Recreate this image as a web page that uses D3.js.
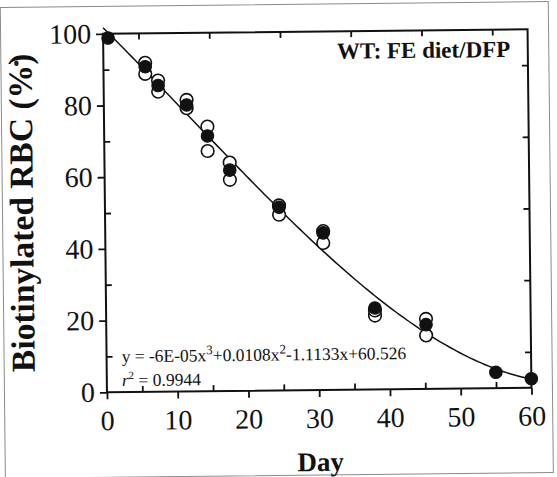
<!DOCTYPE html>
<html>
<head>
<meta charset="utf-8">
<script src="https://cdn.jsdelivr.net/npm/d3@7"></script>
<style>
  body { margin: 0; background: #fff; }
  text { font-family: "Liberation Serif", "Times New Roman", serif; fill: #111; }
</style>
</head>
<body>
<svg id="chart" width="557" height="477"></svg>
<script>
// Days after biotin labelling
const days = [0.7, 5.9, 7.7, 11.7, 14.6, 17.7, 24.6, 30.8, 38.0, 45.2, 55.0, 60.0];
// Biotinylated RBC (%) per mouse
const mouseFilled = [98.8, 90.7, 85.4, 79.9, 71.2, 61.6, 51.1, 43.8, 22.7, 17.9, 4.4, 2.5];
const mouseOpenA  = [null, 91.8, 86.8, 81.3, 73.8, 63.7, 51.6, 44.3, 22.0, 19.5, null, null];
const mouseOpenB  = [null, 88.7, 83.7, 79.0, 67.0, 58.9, 49.0, 41.0, 20.6, 14.9, null, null];

const xMajorTicks = [0, 10, 20, 30, 40, 50, 60];
const xMinorTicks = [5, 15, 25, 35, 45, 55];
const yMajorTicks = [0, 20, 40, 60, 80, 100];
const yMinorTicks = [10, 30, 50, 70, 90];

const titleText = "WT: FE diet/DFP";
const xLabel = "Day";
const yLabel = "Biotinylated RBC (%)";

const plot = { left: 105, right: 529.5, top: 31.5, bottom: 390 };

const svg = d3.select("#chart");
const root = svg.append("g")
  .attr("transform", `rotate(-0.62 ${(plot.left + plot.right) / 2} ${(plot.top + plot.bottom) / 2})`);

// faint outer frame of the figure panel
root.append("rect")
  .attr("x", 2.5).attr("y", 4).attr("width", 548).attr("height", 471)
  .attr("fill", "none").attr("stroke", "#8a8a8a").attr("stroke-width", 1);

const x = d3.scaleLinear().domain([0, 60]).range([plot.left, plot.right]);
const y = d3.scaleLinear().domain([0, 100]).range([plot.bottom, plot.top]);

// axes: major ticks outward with labels, minor ticks inward
const axisLeftMajor = d3.axisLeft(y).tickValues(yMajorTicks).tickSize(7).tickPadding(5).tickFormat(d3.format("d"));
const axisLeftMinor = d3.axisLeft(y).tickValues(yMinorTicks).tickSize(-6).tickFormat("");
const axisBottomMajor = d3.axisBottom(x).tickValues(xMajorTicks).tickSize(7).tickPadding(11).tickFormat(d3.format("d"));
const axisBottomMinor = d3.axisBottom(x).tickValues(xMinorTicks).tickSize(-6).tickFormat("");
const axisTopMinor = d3.axisTop(x).tickValues(xMinorTicks).tickSize(-6).tickFormat("");
const axisRightMinor = d3.axisRight(y).tickValues(yMinorTicks).tickSize(-6).tickFormat("");

function styleAxis(g) {
  g.select(".domain").remove();
  g.selectAll(".tick line").attr("stroke", "#111").attr("stroke-width", 1.8);
  g.selectAll(".tick text")
    .attr("fill", "#111")
    .style("font-family", '"Liberation Serif", "Times New Roman", serif')
    .style("font-size", "28px");
}

root.append("g").attr("transform", `translate(${plot.left},0)`).call(axisLeftMajor).call(styleAxis);
root.append("g").attr("transform", `translate(${plot.left},0)`).call(axisLeftMinor).call(styleAxis);
root.append("g").attr("transform", `translate(0,${plot.bottom})`).call(axisBottomMajor).call(styleAxis);
root.append("g").attr("transform", `translate(0,${plot.bottom})`).call(axisBottomMinor).call(styleAxis);
root.append("g").attr("transform", `translate(0,${plot.top})`).call(axisTopMinor).call(styleAxis);
root.append("g").attr("transform", `translate(${plot.right},0)`).call(axisRightMinor).call(styleAxis);

// plot frame
root.append("rect")
  .attr("x", plot.left).attr("y", plot.top)
  .attr("width", plot.right - plot.left).attr("height", plot.bottom - plot.top)
  .attr("fill", "none").attr("stroke", "#111").attr("stroke-width", 2);

// least-squares cubic through every measurement
const pts = [];
[mouseFilled, mouseOpenA, mouseOpenB].forEach(s => s.forEach((v, i) => { if (v != null) pts.push([days[i], v]); }));
function cubicFit(p) {
  const n = 4, A = Array.from({ length: n }, () => new Array(n + 1).fill(0));
  p.forEach(([xx, yy]) => {
    const t = xx / 60;
    const pw = [1, t, t * t, t * t * t];
    for (let r = 0; r < n; r++) {
      for (let c = 0; c < n; c++) A[r][c] += pw[r] * pw[c];
      A[r][n] += pw[r] * yy;
    }
  });
  for (let i = 0; i < n; i++) {
    let m = i;
    for (let r = i + 1; r < n; r++) if (Math.abs(A[r][i]) > Math.abs(A[m][i])) m = r;
    [A[i], A[m]] = [A[m], A[i]];
    for (let r = 0; r < n; r++) {
      if (r === i) continue;
      const f = A[r][i] / A[i][i];
      for (let c = i; c <= n; c++) A[r][c] -= f * A[i][c];
    }
  }
  const k = A.map((row, i) => row[n] / row[i]);
  return xx => { const t = xx / 60; return k[0] + k[1] * t + k[2] * t * t + k[3] * t * t * t; };
}
const fit = cubicFit(pts);
const curveDays = d3.range(0, 60.001, 0.5);
root.append("path")
  .datum(curveDays)
  .attr("fill", "none").attr("stroke", "#111").attr("stroke-width", 1.5)
  .attr("d", d3.line().x(d => x(d)).y(d => y(fit(d))));

// symbols: open circles underneath, filled on top
const r = 6.3;
[mouseOpenB, mouseOpenA].forEach(series => {
  root.append("g").selectAll("circle")
    .data(days.map((d, i) => [d, series[i]]).filter(p => p[1] != null))
    .join("circle")
    .attr("cx", p => x(p[0])).attr("cy", p => y(p[1])).attr("r", r)
    .attr("fill", "#fff").attr("stroke", "#111").attr("stroke-width", 1.6);
});
root.append("g").selectAll("circle")
  .data(days.map((d, i) => [d, mouseFilled[i]]))
  .join("circle")
  .attr("cx", p => x(p[0])).attr("cy", p => y(p[1])).attr("r", r)
  .attr("fill", "#111").attr("stroke", "#111").attr("stroke-width", 1);

// panel title
root.append("text")
  .attr("x", 512).attr("y", 59)
  .attr("text-anchor", "end")
  .style("font-size", "23px").style("font-weight", "bold")
  .text(titleText);

// regression annotation
const eq = root.append("text").attr("x", 120).attr("y", 360).style("font-size", "17.5px");
eq.append("tspan").text("y = -6E-05x");
eq.append("tspan").attr("dy", -7).style("font-size", "13px").text("3");
eq.append("tspan").attr("dy", 7).text("+0.0108x");
eq.append("tspan").attr("dy", -7).style("font-size", "13px").text("2");
eq.append("tspan").attr("dy", 7).text("-1.1133x+60.526");

const r2 = root.append("text").attr("x", 120).attr("y", 384).style("font-size", "17.5px");
r2.append("tspan").style("font-style", "italic").text("r");
r2.append("tspan").attr("dy", -7).style("font-size", "11px").text("2");
r2.append("tspan").attr("dy", 7).text(" = 0.9944");

// axis titles
root.append("text")
  .attr("x", 318).attr("y", 471)
  .attr("text-anchor", "middle")
  .style("font-size", "27px").style("font-weight", "bold")
  .text(xLabel);

root.append("text")
  .attr("transform", `translate(33,${(plot.top + plot.bottom) / 2 - 1}) rotate(-90)`)
  .attr("text-anchor", "middle")
  .style("font-size", "33.5px").style("font-weight", "bold")
  .text(yLabel);

// small ink speck near the upper left
root.append("ellipse").attr("cx", 18).attr("cy", 60).attr("rx", 2.2).attr("ry", 2.8).attr("fill", "#222");
</script>
</body>
</html>
